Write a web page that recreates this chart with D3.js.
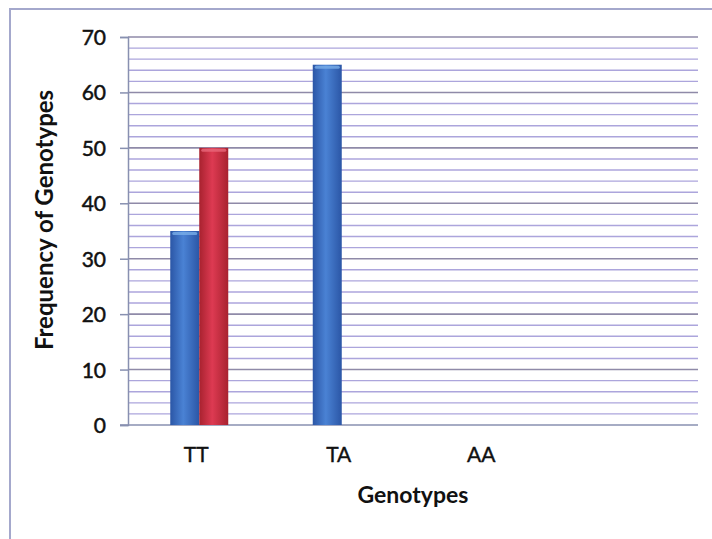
<!DOCTYPE html>
<html>
<head>
<meta charset="utf-8">
<script src="https://cdn.jsdelivr.net/npm/d3@7"></script>
<style>
  body { margin: 0; background: #fff; }
  svg { display: block; font-family: Lato, "Open Sans", sans-serif; }
</style>
</head>
<body>
<svg id="chart" width="712" height="539"></svg>
<script>
// chart data
var genotypes = ["TT", "TA", "AA", ""];
var seriesNames = ["group1", "group2"];
var group1 = [35, 65, 0, null];
var group2 = [50, 0, 0, null];
var yTicks = [0, 10, 20, 30, 40, 50, 60, 70];

var svg = d3.select("svg#chart");
var plotLeft = 128, plotRight = 698, plotTop = 37, plotBottom = 425;

// outer frame (runs off the right and bottom of the picture)
svg.append("rect")
    .attr("x", 10).attr("y", 9)
    .attr("width", 760).attr("height", 600)
    .attr("fill", "none").attr("stroke", "#a4a8cc").attr("stroke-width", 2);

var x = d3.scaleBand().domain(genotypes).range([plotLeft, plotRight]);
var xs = d3.scaleBand().domain(seriesNames)
    .range([x.bandwidth() / 2 - 29, x.bandwidth() / 2 + 29]);
var y = d3.scaleLinear().domain([0, 70]).range([plotBottom, plotTop]);

// gradients for the shaded bars
var defs = svg.append("defs");
function grad(id, edge, mid) {
  var g = defs.append("linearGradient").attr("id", id)
      .attr("x1", "0%").attr("x2", "100%").attr("y1", "0%").attr("y2", "0%");
  g.append("stop").attr("offset", "0%").attr("stop-color", edge);
  g.append("stop").attr("offset", "45%").attr("stop-color", mid);
  g.append("stop").attr("offset", "100%").attr("stop-color", edge);
}
grad("gBlue", "#2b56a6", "#4a82d4");
grad("gRed", "#a8222f", "#dd3a52");

// gridlines, minor every 2 and major every 10
var minor = d3.range(2, 71, 2).filter(function(d) { return d % 10 != 0; });
svg.append("g").selectAll("line").data(minor).join("line")
    .attr("x1", plotLeft).attr("x2", plotRight)
    .attr("y1", function(d) { return y(d); }).attr("y2", function(d) { return y(d); })
    .attr("stroke", "#aca5dc").attr("stroke-width", 1.4);
svg.append("g").selectAll("line").data(yTicks.slice(1)).join("line")
    .attr("x1", plotLeft).attr("x2", plotRight)
    .attr("y1", function(d) { return y(d); }).attr("y2", function(d) { return y(d); })
    .attr("stroke", "#8f8aa8").attr("stroke-width", 1.6);

// y axis
var yAxis = svg.append("g").attr("transform", "translate(" + plotLeft + ",0)")
    .call(d3.axisLeft(y).tickValues(yTicks).tickSize(8).tickPadding(14));
yAxis.select(".domain").attr("stroke", "#8890b0").attr("stroke-width", 1.5);
yAxis.selectAll(".tick line").attr("stroke", "#8890b0").attr("stroke-width", 1.5);
yAxis.selectAll(".tick text")
    .attr("font-family", "Lato, sans-serif").attr("font-size", 21)
    .attr("fill", "#111").attr("stroke", "#111").attr("stroke-width", 0.5)
    .attr("dy", "0.36em");

// x axis
var xAxis = svg.append("g").attr("transform", "translate(0," + plotBottom + ")")
    .call(d3.axisBottom(x).tickSize(0).tickPadding(22));
xAxis.select(".domain").attr("d", "M" + (plotLeft - 8) + ",0H" + plotRight)
    .attr("stroke", "#8890b0").attr("stroke-width", 1.5);
xAxis.selectAll(".tick text")
    .attr("font-family", "Lato, sans-serif").attr("font-size", 21)
    .attr("fill", "#111").attr("stroke", "#111").attr("stroke-width", 0.4)
    .attr("dx", -3);

// bars
var rows = genotypes.map(function(g, i) {
  return [{ key: "group1", cat: g, v: group1[i] }, { key: "group2", cat: g, v: group2[i] }];
});
var groups = svg.append("g").selectAll("g").data(rows).join("g")
    .attr("transform", function(d, i) { return "translate(" + x(genotypes[i]) + ",0)"; });
var bars = groups.selectAll("g").data(function(d) { return d.filter(function(e) { return e.v > 0; }); })
    .join("g");
bars.append("rect")
    .attr("x", function(d) { return xs(d.key); })
    .attr("width", xs.bandwidth())
    .attr("y", function(d) { return y(d.v); })
    .attr("height", function(d) { return plotBottom - y(d.v); })
    .attr("fill", function(d) { return d.key == "group1" ? "url(#gBlue)" : "url(#gRed)"; });
bars.append("rect")
    .attr("x", function(d) { return xs(d.key) + 2; })
    .attr("width", xs.bandwidth() - 4)
    .attr("y", function(d) { return y(d.v) + 1; })
    .attr("height", 3)
    .attr("rx", 1.5)
    .attr("fill", function(d) { return d.key == "group1" ? "#79aee8" : "#e8687a"; })
    .attr("opacity", 0.8);

// axis titles
svg.append("text")
    .attr("x", 413).attr("y", 503)
    .attr("text-anchor", "middle")
    .attr("font-family", "Lato, sans-serif").attr("font-weight", "bold").attr("font-size", 23)
    .attr("fill", "#111")
    .text("Genotypes");
svg.append("text")
    .attr("transform", "translate(53,220) rotate(-90)")
    .attr("text-anchor", "middle")
    .attr("font-family", "Lato, sans-serif").attr("font-weight", "bold").attr("font-size", 24)
    .attr("fill", "#111")
    .text("Frequency of Genotypes");
</script>
</body>
</html>
